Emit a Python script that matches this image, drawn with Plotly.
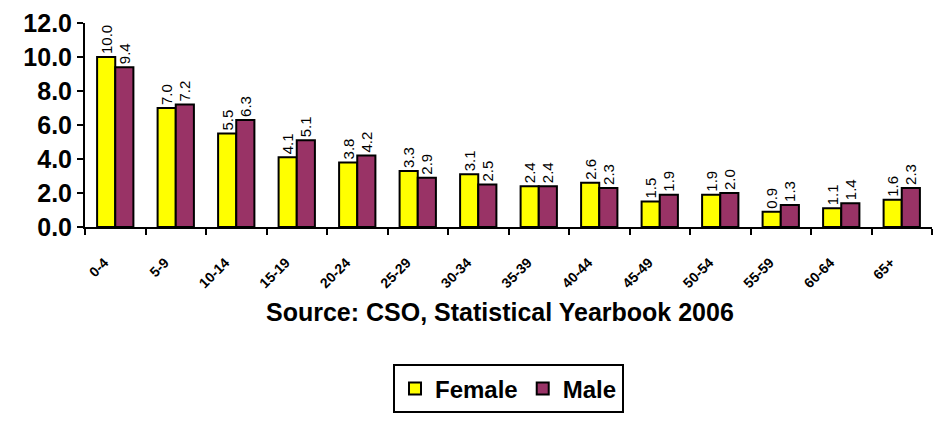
import plotly.graph_objects as go

# ----------------------------------------------------------
# DATA
# ----------------------------------------------------------

age_groups = [
    "0-4", "5-9", "10-14", "15-19", "20-24", "25-29", "30-34",
    "35-39", "40-44", "45-49", "50-54", "55-59", "60-64", "65+",
]

female = [10.0, 7.0, 5.5, 4.1, 3.8, 3.3, 3.1, 2.4, 2.6, 1.5, 1.9, 0.9, 1.1, 1.6]
male = [9.4, 7.2, 6.3, 5.1, 4.2, 2.9, 2.5, 2.4, 2.3, 1.9, 2.0, 1.3, 1.4, 2.3]

y_ticks = [0, 2, 4, 6, 8, 10, 12]

source_note = "Source: CSO, Statistical Yearbook 2006"

# ----------------------------------------------------------
# STYLE
# ----------------------------------------------------------

YELLOW = "#FFFF00"
PLUM = "#993366"
BLACK = "#000000"
FONT = "Liberation Sans, Arial, sans-serif"

fig = go.Figure()

for name, values, color in [
    ("Female", female, YELLOW),
    ("Male", male, PLUM),
]:
    fig.add_trace(
        go.Bar(
            name=name,
            x=age_groups,
            y=values,
            marker=dict(color=color, line=dict(color=BLACK, width=2)),
            text=[f"{v:.1f}" for v in values],
            textposition="outside",
            textangle=-90,
            constraintext="none",
            textfont=dict(family=FONT, size=15, color=BLACK),
            cliponaxis=False,
        )
    )

fig.update_layout(
    width=943,
    height=424,
    barmode="group",
    bargap=0.4,
    bargroupgap=0,
    paper_bgcolor="white",
    plot_bgcolor="white",
    font=dict(family=FONT, color=BLACK),
    margin=dict(l=85, r=11, t=23, b=187),
    legend=dict(
        orientation="h",
        x=0.5,
        xanchor="center",
        y=-0.673,
        yanchor="top",
        bordercolor=BLACK,
        borderwidth=2,
        font=dict(family=FONT, size=24, color=BLACK, weight="bold"),
        itemsizing="constant",
        itemwidth=30,
    ),
    showlegend=True,
)

# source line sits under the rotated category labels
fig.add_annotation(
    text=source_note,
    xref="paper",
    yref="paper",
    x=0.49,
    y=-0.416,
    xanchor="center",
    yanchor="middle",
    showarrow=False,
    font=dict(family=FONT, size=25, color=BLACK, weight="bold"),
)

fig.update_xaxes(
    automargin=False,
    tickson="boundaries",
    ticks="outside",
    ticklen=6,
    tickwidth=2,
    tickcolor=BLACK,
    showline=True,
    linecolor=BLACK,
    linewidth=2,
    showgrid=False,
    tickangle=-45,
    ticklabelstandoff=20,
    ticklabelshift=-11,
    tickfont=dict(family=FONT, size=14, color=BLACK, weight="bold"),
)

fig.update_yaxes(
    automargin=False,
    range=[0, 12],
    tickvals=y_ticks,
    ticktext=[f"{v:.1f}" for v in y_ticks],
    ticks="outside",
    ticklen=6,
    tickwidth=2,
    tickcolor=BLACK,
    showline=True,
    linecolor=BLACK,
    linewidth=2,
    showgrid=False,
    zeroline=False,
    tickfont=dict(family=FONT, size=25, color=BLACK, weight="bold"),
)

# drop the default page margin so the figure sits at the window's corner
fig.write_html(
    "out.html",
    config={"displayModeBar": False},
    post_script="document.body.style.margin = '0';",
)
